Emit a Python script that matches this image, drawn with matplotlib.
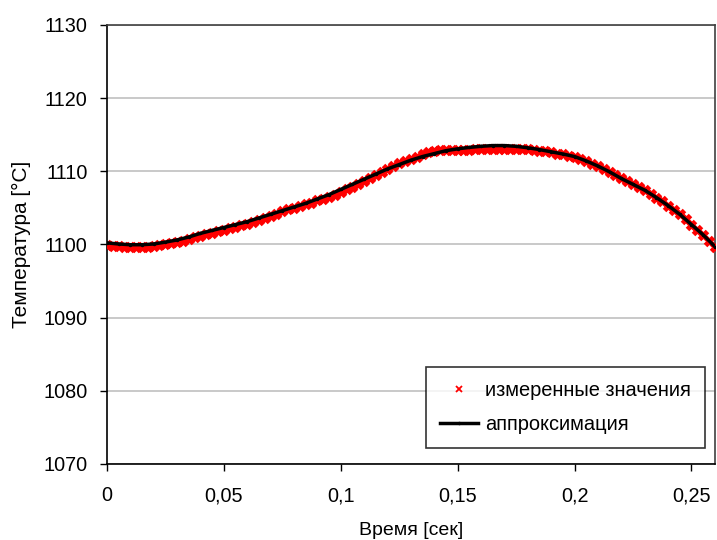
import matplotlib
matplotlib.use("Agg")
import matplotlib.pyplot as plt

plt.rcParams['font.family'] = ['Liberation Sans', 'DejaVu Sans']

# time axis (s) for measured values, step 0.0025
t_meas = [i * 0.0025 for i in range(105)]
T_meas = [1099.9, 1099.8, 1099.8, 1099.7, 1099.7, 1099.7, 1099.7, 1099.7, 1099.8, 1099.9,
          1100.0, 1100.2, 1100.3, 1100.5, 1100.7, 1101.0, 1101.2, 1101.4, 1101.6, 1101.8,
          1102.0, 1102.2, 1102.4, 1102.6, 1102.8, 1103.0, 1103.3, 1103.6, 1103.9, 1104.2,
          1104.5, 1104.8, 1105.0, 1105.3, 1105.5, 1105.7, 1106.0, 1106.2, 1106.5, 1106.8,
          1107.2, 1107.5, 1107.9, 1108.3, 1108.7, 1109.1, 1109.5, 1109.9, 1110.3, 1110.7,
          1111.1, 1111.4, 1111.7, 1112.0, 1112.3, 1112.6, 1112.8, 1112.9, 1112.9, 1112.9,
          1112.9, 1112.9, 1112.9, 1113.0, 1113.0, 1113.0, 1113.0, 1113.0, 1113.0, 1113.0,
          1113.0, 1113.0, 1113.0, 1112.9, 1112.8, 1112.7, 1112.6, 1112.4, 1112.3, 1112.1,
          1111.9, 1111.7, 1111.4, 1111.0, 1110.7, 1110.3, 1109.9, 1109.5, 1109.0, 1108.6,
          1108.2, 1107.8, 1107.4, 1106.9, 1106.4, 1105.9, 1105.3, 1104.7, 1104.1, 1103.4,
          1102.7, 1102.0, 1101.3, 1100.5, 1099.7]

# approximation, step 0.005
t_fit = [i * 0.005 for i in range(53)]
T_fit = [1100.2, 1100.05, 1099.95, 1099.95, 1100.05, 1100.3, 1100.6, 1101.0, 1101.5, 1101.9,
         1102.3, 1102.7, 1103.1, 1103.6, 1104.1, 1104.6, 1105.1, 1105.6, 1106.2, 1106.8,
         1107.5, 1108.2, 1108.9, 1109.6, 1110.3, 1110.9, 1111.5, 1112.0, 1112.4, 1112.8,
         1113.05, 1113.25, 1113.4, 1113.5, 1113.5, 1113.4, 1113.2, 1112.95, 1112.65, 1112.35,
         1112.0, 1111.4, 1110.7, 1109.9, 1109.0, 1108.2, 1107.4, 1106.4, 1105.3, 1104.1,
         1102.7, 1101.3, 1099.7]

x_ticks = [0, 0.05, 0.1, 0.15, 0.2, 0.25]
x_ticklabels = ["0", "0,05", "0,1", "0,15", "0,2", "0,25"]
y_ticks = [1070, 1080, 1090, 1100, 1110, 1120, 1130]

fig = plt.figure(figsize=(7.17, 5.40), dpi=100)
ax = fig.add_axes([0.149, 0.141, 0.848, 0.813])

ax.plot(t_meas, T_meas, linestyle='none', marker='x', color='#ff0000',
        markersize=6, markeredgewidth=3.6, label='измеренные значения', zorder=3)
ax.plot(t_fit, T_fit, color='black', linewidth=2.5, marker='.', markersize=3,
        label='аппроксимация', zorder=4)

ax.set_xlim(0, 0.26)
ax.set_ylim(1070, 1130)
ax.set_xticks(x_ticks)
ax.set_xticklabels(x_ticklabels)
ax.set_yticks(y_ticks)
ax.yaxis.grid(True, color='#c0c0c0', linewidth=1.2)
ax.set_axisbelow(True)
ax.tick_params(axis='both', direction='out', length=5, width=1, labelsize=14.3, colors='black')
ax.tick_params(axis='y', pad=9)
ax.tick_params(axis='x', pad=11)
for s in ['left', 'bottom']:
    ax.spines[s].set_color('black')
    ax.spines[s].set_linewidth(1.2)
for s in ['top', 'right']:
    ax.spines[s].set_color('#404040')
    ax.spines[s].set_linewidth(1.2)

ax.set_xlabel('Время [сек]', fontsize=14, labelpad=12)
ax.set_ylabel('Температура [°C]', fontsize=15, labelpad=9)

leg = ax.legend(loc='lower right', bbox_to_anchor=(0.984, 0.036), borderaxespad=0,
                fontsize=14.4, frameon=True, fancybox=False, edgecolor='black',
                borderpad=0.7, handlelength=1.9, handletextpad=0.35, labelspacing=0.75)
leg.get_frame().set_linewidth(1.2)
h0 = leg.legend_handles[0]
h0.set_markersize(5)
h0.set_markeredgewidth(1.3)

fig.savefig('out.png', dpi=100)
